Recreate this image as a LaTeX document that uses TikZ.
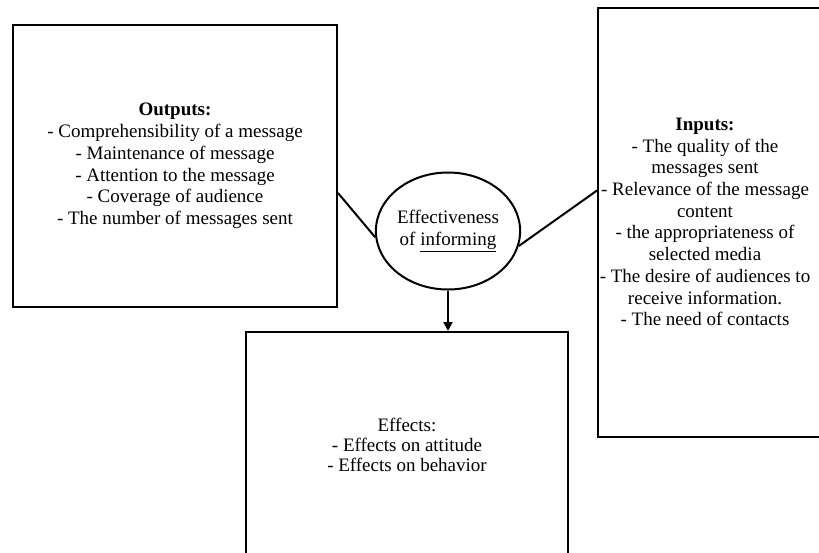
\documentclass[tikz,border=0pt]{standalone}
\usepackage{fontspec}
\setmainfont{Liberation Serif}
\usetikzlibrary{shapes.geometric,calc,arrows.meta}
\begin{document}
\begin{tikzpicture}[x=1pt,y=-1pt,
  box/.style={draw=black,line width=2pt,rectangle,inner sep=0pt},
  txt/.style={align=center,inner sep=0pt,font=\fontsize{19}{21.7}\selectfont},
  conn/.style={line width=2pt}]
\useasboundingbox (0,0) rectangle (819,552);
% Outputs
\node[box,minimum width=324pt,minimum height=282pt,txt] (outbox) at (175,166)
  {\textbf{Outputs:}\\- Comprehensibility of a message\\- Maintenance of message\\- Attention to the message\\- Coverage of audience\\- The number of messages sent};
% Inputs
\node[box,minimum width=242pt,minimum height=429pt] (inbox) at (719,222.5) {};
\node[txt] (intext) at (705,222)
  {\textbf{Inputs:}\\- The quality of the\\messages sent\\- Relevance of the message\\content\\- the appropriateness of\\selected media\\- The desire of audiences to\\receive information.\\- The need of contacts};
% Effectiveness
\node[draw=black,line width=2pt,ellipse,minimum width=133pt,minimum height=117pt,inner sep=0pt,txt] (eff) at (448,231)
  {Effectiveness\\of \underline{informing}};
% Effects
\node[box,minimum width=322pt,minimum height=226pt,txt,font=\fontsize{19}{20}\selectfont] (effbox) at (407,445)
  {Effects:\\- Effects on attitude\\- Effects on behavior};
% connectors
\draw[conn] ($(outbox.east)+(0,27)$) -- (eff.185);
\draw[conn] (eff.-12) -- ($(inbox.west)+(0,-32)$);
\draw[conn,-{Triangle[length=9pt,width=9pt]}] (eff.south) -- (eff.south |- effbox.north);
\end{tikzpicture}
\end{document}
